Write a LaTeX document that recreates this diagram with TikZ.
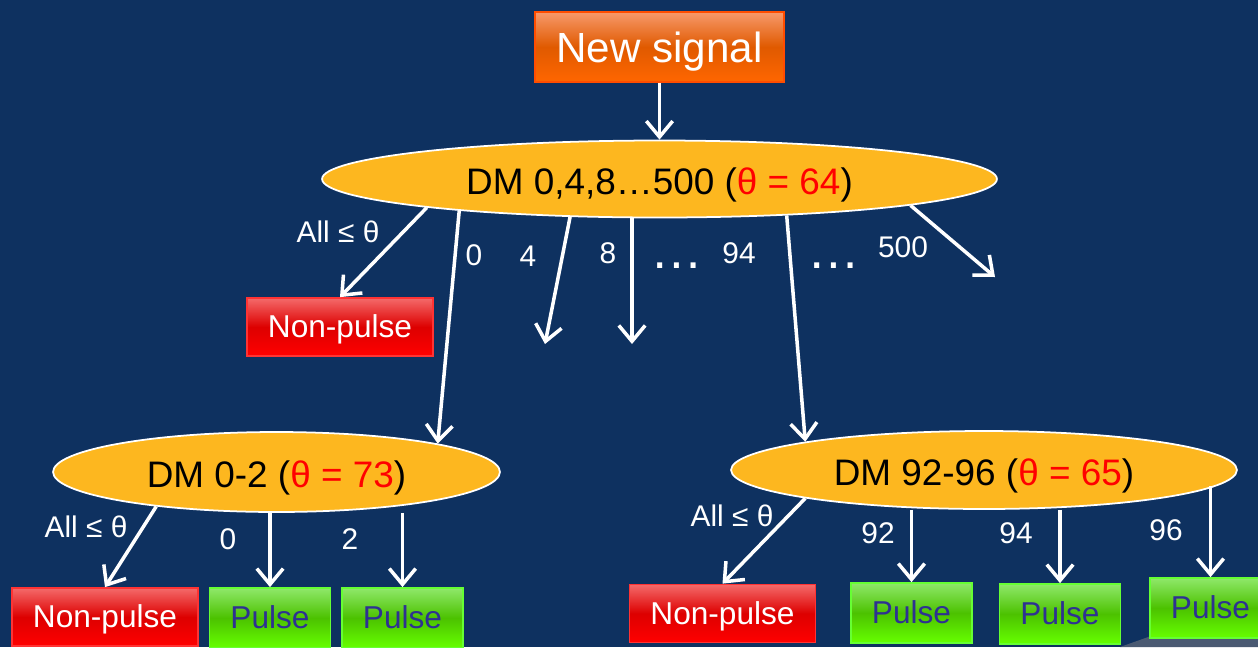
\documentclass[tikz,border=0pt]{standalone}
\usepackage{fontspec}
\setmainfont{Liberation Sans}
\usetikzlibrary{shapes.geometric,arrows.meta}

\definecolor{slidebg}{HTML}{0E3160}
\definecolor{swoosh}{HTML}{4A5A72}
\definecolor{gold}{HTML}{FDB71F}
\definecolor{orangeline}{HTML}{FF4D00}
\definecolor{orangetop}{HTML}{F7996B}
\definecolor{orangemid}{HTML}{E05A00}
\definecolor{orangebot}{HTML}{FF6600}
\definecolor{redline}{HTML}{FF3333}
\definecolor{redtop}{HTML}{F46A6A}
\definecolor{redmid}{HTML}{DD0000}
\definecolor{redbot}{HTML}{FF0000}
\definecolor{greenline}{HTML}{66FF33}
\definecolor{greentop}{HTML}{8FE86A}
\definecolor{greenmid}{HTML}{4CC200}
\definecolor{greenbot}{HTML}{66FF00}
\definecolor{pulsetext}{HTML}{2E3192}

\begin{document}
\begin{tikzpicture} [x=0.02cm, y=-0.02cm,
            signal_style/.style={rectangle, draw=orangeline, line width=1pt, top color=orangetop, bottom color=orangebot, middle color=orangemid, minimum width=4.98cm, minimum height=1.4cm, text height=22pt, text depth=4pt, text=white, font=\fontsize{24}{28}\selectfont},
            dm_style/.style={ellipse, draw=white, line width=1pt, fill=gold, inner sep=0pt, text height=20pt, text depth=2pt, font=\fontsize{21}{25}\selectfont},
            nonpulse_style/.style={rectangle, draw=redline, line width=1pt, top color=redtop, bottom color=redbot, middle color=redmid, minimum width=3.72cm, minimum height=1.16cm, text height=15pt, text depth=3pt, text=white, font=\fontsize{18}{22}\selectfont},
            pulse_style/.style={rectangle, draw=greenline, line width=1pt, top color=greentop, bottom color=greenbot, middle color=greenmid, minimum width=2.42cm, minimum height=1.2cm, text height=15pt, text depth=3pt, text=pulsetext, font=\fontsize{18}{22}\selectfont},
            label_style/.style={text=white, inner sep=0pt, font=\fontsize{17}{20}\selectfont},
            dots_style/.style={text=white, inner sep=0pt, anchor=base, font=\fontsize{30}{32}\selectfont},
            edge_style/.style={draw=white, line width=2pt, -{Straight Barb[length=9pt,width=15pt]}}]
            \useasboundingbox (0,0) rectangle (1258,647);
            \fill[slidebg] (0,0) rectangle (1258,647);
            \fill[swoosh] (1120,647) -- (1258,598) -- (1258,647) -- cycle;
            % top of the tree
            \node[signal_style] (new) at (659.5,47) {New signal};
            \node[dm_style, minimum width=13.5cm, minimum height=1.54cm] (dm_all) at (659.5,179) {DM 0,4,8…500 (\textcolor{red}{θ = 64})};
            \node[nonpulse_style] (np_top) at (340,327) {Non-pulse};
            \coordinate (end_4) at (545,344);
            \coordinate (end_8) at (632,344);
            \coordinate (end_500) at (995,277);
            \node[label_style] (all_top) at (338,232) {All ≤ θ};
            \node[label_style] (lab_0) at (474,255) {0};
            \node[label_style] (lab_4) at (528,256) {4};
            \node[label_style] (lab_8) at (608,253) {8};
            \node[dots_style] (dots_a) at (677,268) {…};
            \node[label_style] (lab_94) at (739,253) {94};
            \node[dots_style] (dots_b) at (834,268) {…};
            \node[label_style] (lab_500) at (903,247) {500};
            % DM 0-2
            \node[dm_style, minimum width=8.94cm, minimum height=1.6cm] (dm_low) at (276.5,472) {DM 0-2 (\textcolor{red}{θ = 73})};
            \node[nonpulse_style] (np_low) at (105,617) {Non-pulse};
            \node[pulse_style] (pl_a) at (270,618) {Pulse};
            \node[pulse_style] (pl_b) at (402.5,618) {Pulse};
            \node[label_style] (all_low) at (86,527) {All ≤ θ};
            \node[label_style] (lab_l0) at (228,539) {0};
            \node[label_style] (lab_l2) at (350,539) {2};
            % DM 92-96
            \node[dm_style, minimum width=10.12cm, minimum height=1.56cm] (dm_mid) at (984,470) {DM 92-96 (\textcolor{red}{θ = 65})};
            \node[nonpulse_style] (np_mid) at (722.5,613.5) {Non-pulse};
            \node[pulse_style] (pl_c) at (911.5,613) {Pulse};
            \node[pulse_style] (pl_d) at (1060,614) {Pulse};
            \node[pulse_style] (pl_e) at (1210.5,608) {Pulse};
            \node[label_style] (all_mid) at (732,516) {All ≤ θ};
            \node[label_style] (lab_92) at (878,533) {92};
            \node[label_style] (lab_r94) at (1016,533) {94};
            \node[label_style] (lab_96) at (1166,530) {96};
            % arrows
            \draw[edge_style] (new) -- (dm_all);
            \draw[edge_style] (dm_all.187) -- (np_top.north);
            \draw[edge_style] (dm_all.189.3) -- (dm_low.10);
            \draw[edge_style] (dm_all.203) -- (end_4);
            \draw[edge_style] (dm_all.south -| end_8) -- (end_8);
            \draw[edge_style] (dm_all.344) -- (dm_mid.171.3);
            \draw[edge_style] (dm_all.354.2) -- (end_500);
            \draw[edge_style] (dm_low.196) -- (np_low.north);
            \draw[edge_style] (dm_low.south -| pl_a.north) -- (pl_a.north);
            \draw[edge_style] (dm_low.south -| pl_b.north) -- (pl_b.north);
            \draw[edge_style] (dm_mid.189.4) -- (np_mid.north);
            \draw[edge_style] (dm_mid.south -| pl_c.north) -- (pl_c.north);
            \draw[edge_style] (dm_mid.south -| pl_d.north) -- (pl_d.north);
            \draw[edge_style] (pl_e.north |- dm_mid.-4.3) -- (pl_e.north);
        \end{tikzpicture}
\end{document}
